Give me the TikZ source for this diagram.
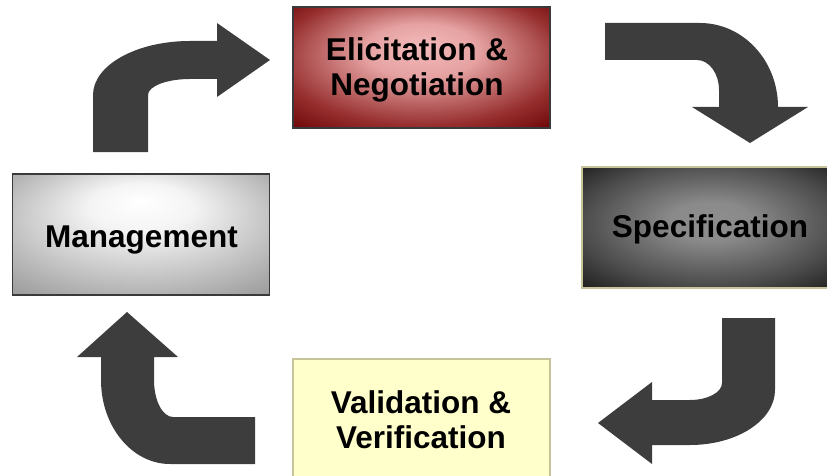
\documentclass[tikz,border=0pt]{standalone}
\usepackage{fontspec}
\setmainfont{Liberation Sans}
\definecolor{arrowgray}{HTML}{3C3D3C}
\definecolor{darkborder}{HTML}{3A3A3A}
\definecolor{tanborder}{HTML}{C8C49A}
\definecolor{valfill}{HTML}{FFFFCC}
\definecolor{elicA}{HTML}{F3BABA}
\definecolor{elicB}{HTML}{E6A2A2}
\definecolor{elicC}{HTML}{962E2E}
\definecolor{elicD}{HTML}{6E0808}
\definecolor{mgmtA}{HTML}{FFFFFF}
\definecolor{mgmtB}{HTML}{F4F4F4}
\definecolor{mgmtC}{HTML}{A6A6A6}
\definecolor{mgmtD}{HTML}{888888}
\definecolor{specA}{HTML}{8E8E8E}
\definecolor{specB}{HTML}{8A8A8A}
\definecolor{specC}{HTML}{4C4C4C}
\definecolor{specD}{HTML}{1E1E1E}
\pgfdeclareradialshading{elicshade}{\pgfpoint{0bp}{9bp}}{color(0bp)=(elicA); color(11bp)=(elicB); color(28bp)=(elicC); color(37bp)=(elicD); color(50bp)=(elicD)}
\pgfdeclareradialshading{mgmtshade}{\pgfpoint{0bp}{14bp}}{color(0bp)=(mgmtA); color(10bp)=(mgmtB); color(34bp)=(mgmtC); color(45bp)=(mgmtD); color(50bp)=(mgmtD)}
\pgfdeclareradialshading{specshade}{\pgfpoint{0bp}{3bp}}{color(0bp)=(specA); color(8bp)=(specB); color(25bp)=(specC); color(36bp)=(specD); color(50bp)=(specD)}
\tikzset{
  stage/.style={line width=1.6pt, minimum width=257pt, minimum height=121pt, inner sep=0pt},
  stagetext/.style={inner sep=0pt, text height=23pt, text depth=7pt,
    font=\bfseries\fontsize{31.5}{35}\selectfont, align=center},
  blockarrow/.style={fill=arrowgray, draw=none}
}
\begin{document}
\begin{tikzpicture}[x=1pt,y=-1pt]
\useasboundingbox (0,0) rectangle (827,476);
\clip (0,0) rectangle (827,476);
% boxes
\node[stage, draw=darkborder, shading=elicshade] (elic) at (421.5,67.5) {};
\node[stagetext] (elictext) at (417,87.5) {Elicitation \&\\Negotiation};
\node[stage, draw=tanborder, shading=specshade] (spec) at (710.5,227.5) {};
\node[stagetext] (spectext) at (710,229) {Specification};
\node[stage, draw=darkborder, shading=mgmtshade] (mgmt) at (141,234.5) {};
\node[stagetext] (mgmttext) at (141.5,239) {Management};
\node[stage, draw=tanborder, fill=valfill] (val) at (421.5,419.5) {};
\node[stagetext] (valtext) at (421,440.5) {Validation \&\\Verification};
% arrow: management -> elicitation
\fill[blockarrow] (93,152) -- (93,95) arc[start angle=180,end angle=270,x radius=97,y radius=54]
  -- (217,41) -- (217,23) -- (270,60) -- (217,97) -- (217,79) -- (190,79)
  arc[start angle=270,end angle=180,x radius=42,y radius=16] -- (148,152) -- cycle;
% arrow: elicitation -> specification
\fill[blockarrow] (605,23) -- (700,23) arc[start angle=270,end angle=360,x radius=78,y radius=84]
  -- (808,107) -- (750,143) -- (692,107) -- (719,107) -- (719,90)
  arc[start angle=0,end angle=-90,x radius=22,y radius=30] -- (605,60) -- cycle;
% arrow: specification -> validation
\fill[blockarrow] (775,318) -- (775,390) arc[start angle=0,end angle=90,x radius=85,y radius=55]
  -- (652,445) -- (652,464) -- (598,423) -- (652,382) -- (652,400) -- (690,400)
  arc[start angle=90,end angle=0,x radius=32,y radius=17] -- (722,318) -- cycle;
% arrow: validation -> management
\fill[blockarrow] (255,464) -- (170,464) arc[start angle=90,end angle=180,x radius=69,y radius=84]
  -- (101,357) -- (77,357) -- (127,312) -- (178,357) -- (154,357) -- (154,380)
  arc[start angle=180,end angle=90,x radius=19,y radius=37] -- (255,417) -- cycle;
\end{tikzpicture}
\end{document}
